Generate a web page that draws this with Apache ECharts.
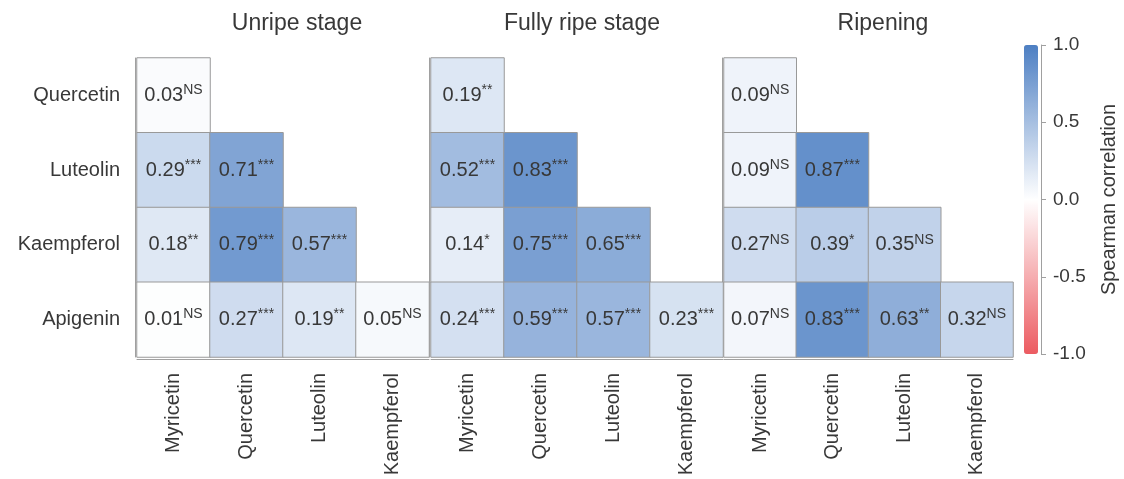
<!DOCTYPE html>
<html>
<head>
<meta charset="utf-8">
<script src="https://cdn.jsdelivr.net/npm/echarts@6/dist/echarts.min.js"></script>
<style>
  html, body { margin: 0; padding: 0; background: #fff; }
  #chart { width: 1124px; height: 479px; }
</style>
</head>
<body>
<div id="chart"></div>
<script>
const chart = echarts.init(document.getElementById("chart"));

const ROWS = ["Quercetin", "Luteolin", "Kaempferol", "Apigenin"];
const COLS = ["Myricetin", "Quercetin", "Luteolin", "Kaempferol"];
const STAGES = ["Unripe stage", "Fully ripe stage", "Ripening"];

// lower triangle, row by row
const unripeVals = [[0.03], [0.29, 0.71], [0.18, 0.79, 0.57], [0.01, 0.27, 0.19, 0.05]];
const unripeSig = [["NS"], ["***", "***"], ["**", "***", "***"], ["NS", "***", "**", "NS"]];

const ripeVals = [[0.19], [0.52, 0.83], [0.14, 0.75, 0.65], [0.24, 0.59, 0.57, 0.23]];
const ripeSig = [["**"], ["***", "***"], ["*", "***", "***"], ["***", "***", "***", "***"]];

const ripeningVals = [[0.09], [0.09, 0.87], [0.27, 0.39, 0.35], [0.07, 0.83, 0.63, 0.32]];
const ripeningSig = [["NS"], ["NS", "***"], ["NS", "*", "NS"], ["NS", "***", "**", "NS"]];

const SCALE_TICKS = [-1, -0.5, 0, 0.5, 1];

const FONT = "Liberation Sans, Arial, sans-serif";
const TXT = "#383838";

function toData(vals, sig) {
	const out = [];
	vals.forEach((row, r) => {
		row.forEach((v, c) => out.push([c, r, v, sig[r][c]]));
	});
	return out;
}

const panels = [
	{ data: toData(unripeVals, unripeSig), left: 137, width: 292, title: 292 },
	{ data: toData(ripeVals, ripeSig), left: 431, width: 292, title: 577 },
	{ data: toData(ripeningVals, ripeningSig), left: 724, width: 289, title: 878 }
];

const grids = panels.map(p => ({ left: p.left, top: 58, width: p.width, height: 299 }));
grids.push({ left: 1041, top: 45, width: 1, height: 309 });

const frame = { show: true, onZero: false, lineStyle: { color: "#a0a0a0", width: 1 } };

const xAxes = panels.map((p, i) => ({
	type: "category",
	gridIndex: i,
	data: COLS,
	offset: 2,
	axisLine: frame,
	axisTick: { show: false },
	splitLine: { show: false },
	axisLabel: { rotate: 90, margin: 14, fontSize: 20, color: TXT, fontFamily: FONT }
}));
xAxes.push({ type: "value", gridIndex: 3, show: false });

const yAxes = panels.map((p, i) => ({
	type: "category",
	gridIndex: i,
	data: ROWS,
	inverse: true,
	offset: 2,
	axisLine: frame,
	axisTick: { show: false },
	splitLine: { show: false },
	axisLabel: { show: i === 0, margin: 15, fontSize: 20, color: TXT, fontFamily: FONT }
}));
yAxes.push({
	type: "value",
	gridIndex: 3,
	position: "right",
	min: SCALE_TICKS[0],
	max: SCALE_TICKS[SCALE_TICKS.length - 1],
	interval: 0.5,
	axisLine: { show: true, lineStyle: { color: "#a0a0a0" } },
	axisTick: { show: true, length: 5, lineStyle: { color: "#a0a0a0" } },
	splitLine: { show: false },
	axisLabel: { margin: 11, fontSize: 19, color: TXT, fontFamily: FONT, formatter: v => v.toFixed(1) },
	name: "Spearman correlation",
	nameLocation: "middle",
	nameRotate: 90,
	nameGap: 57,
	nameTextStyle: { fontSize: 20, color: TXT, fontFamily: FONT }
});

const series = panels.map((p, i) => ({
	type: "heatmap",
	xAxisIndex: i,
	yAxisIndex: i,
	data: p.data,
	itemStyle: { borderColor: "#999", borderWidth: 1 },
	emphasis: { disabled: true },
	label: {
		show: true,
		formatter: d => "{v|" + d.value[2].toFixed(2) + "}{s|" + d.value[3] + "}",
		rich: {
			v: { fontSize: 20, color: TXT, fontFamily: FONT, lineHeight: 24 },
			s: { fontSize: 14, color: TXT, fontFamily: FONT, verticalAlign: "top" }
		}
	}
}));

option = {
	animation: false,
	title: panels.map((p, i) => ({
		text: STAGES[i],
		left: p.title,
		top: 7,
		textAlign: "center",
		textStyle: { fontSize: 23, fontWeight: "normal", color: TXT, fontFamily: FONT }
	})),
	grid: grids,
	xAxis: xAxes,
	yAxis: yAxes,
	visualMap: {
		type: "continuous",
		min: -1,
		max: 1,
		seriesIndex: [0, 1, 2],
		dimension: 2,
		calculable: false,
		hoverLink: false,
		left: 1024,
		top: 45,
		padding: 0,
		itemWidth: 14,
		itemHeight: 309,
		inRange: { color: ["#ec5b61", "#ffffff", "#4d7fc3"] }
	},
	series: series
};

chart.setOption(option);
window.onresize = chart.resize;
</script>
</body>
</html>
